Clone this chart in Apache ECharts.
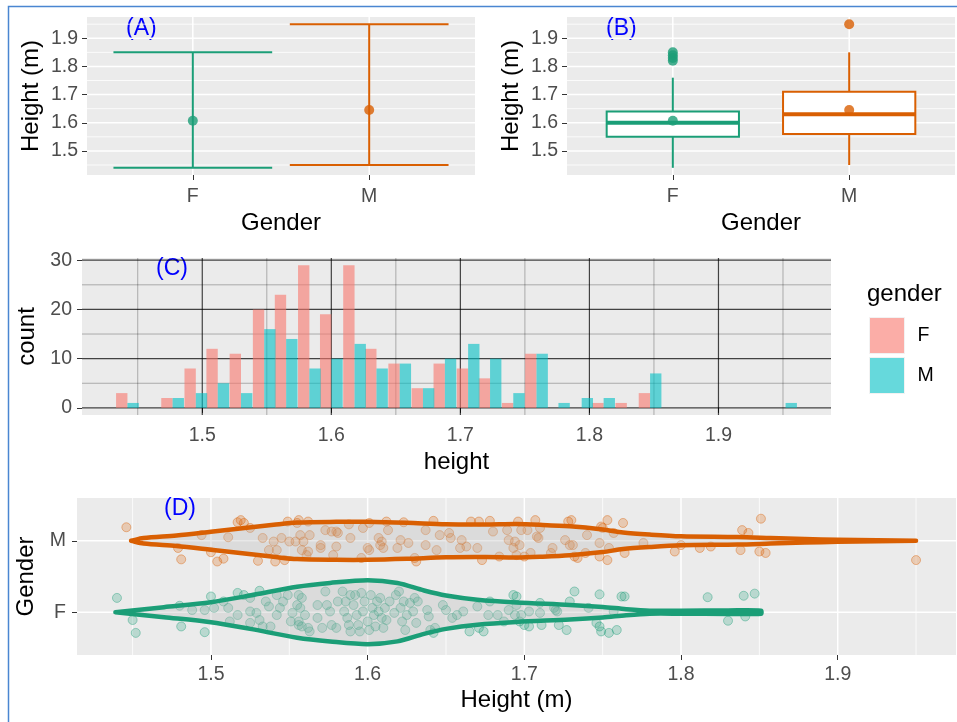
<!DOCTYPE html>
<html>
<head>
<meta charset="utf-8">
<script src="https://cdn.jsdelivr.net/npm/echarts@6.0.0/dist/echarts.min.js"></script>
<style>
html, body { margin: 0; padding: 0; background: #fff; }
#main { width: 957px; height: 722px; }
</style>
</head>
<body>
<div id="main"></div>
<script>
// ---- data ----
var genders = ['F', 'M'];
var genderPos = [1, 2];
var genderCols = ['#1B9E77', '#D95F02'];

// (A) range + mean of height per gender
var rangeMin = [1.44, 1.45];
var rangeMax = [1.85, 1.95];
var meanH = [1.607, 1.645];

// (B) boxplot stats: lower whisker, q1, median, q3, upper whisker
var boxF = [1.44, 1.55, 1.60, 1.64, 1.76];
var boxM = [1.45, 1.56, 1.63, 1.71, 1.85];
var outF = [1.82, 1.83, 1.84, 1.85];
var outM = [1.95];

// (C) histogram, 30 bins
var binWidth = 0.01759;
var binCenters = [1.442, 1.460, 1.477, 1.495, 1.512, 1.530, 1.548, 1.565, 1.583, 1.600,
                  1.618, 1.635, 1.653, 1.671, 1.688, 1.706, 1.723, 1.741, 1.759, 1.776,
                  1.794, 1.811, 1.829, 1.847, 1.864, 1.882, 1.899, 1.917, 1.934, 1.952];
var countF = [3, 0, 2, 8, 12, 11, 20, 23, 29, 19, 29, 12, 9, 4, 9, 8, 6, 1, 11, 0, 0, 1, 1, 3, 0, 0, 0, 0, 0, 0];
var countM = [1, 0, 2, 3, 5, 3, 16, 14, 8, 10, 13, 8, 9, 4, 10, 13, 10, 3, 11, 1, 2, 2, 0, 7, 0, 0, 0, 0, 0, 1];

// (D) violin half widths (in category units) along height
var violinHF = [1.439, 1.47, 1.50, 1.525, 1.555, 1.576, 1.60, 1.619, 1.636, 1.65, 1.67, 1.695, 1.729, 1.75, 1.765, 1.78, 1.80, 1.83, 1.851];
var violinWF = [0, 0.07, 0.14, 0.234, 0.357, 0.41, 0.448, 0.409, 0.304, 0.234, 0.175, 0.136, 0.102, 0.073, 0.042, 0.021, 0.021, 0.024, 0.021];
var violinHM = [1.449, 1.457, 1.478, 1.50, 1.52, 1.54, 1.555, 1.58, 1.60, 1.625, 1.65, 1.675, 1.695, 1.71, 1.729, 1.75, 1.763, 1.78, 1.80, 1.836, 1.857, 1.879, 1.90, 1.95];
var violinWM = [0, 0.038, 0.074, 0.126, 0.175, 0.224, 0.256, 0.266, 0.266, 0.252, 0.231, 0.228, 0.234, 0.224, 0.203, 0.158, 0.116, 0.087, 0.063, 0.053, 0.039, 0.024, 0.014, 0];

// (D) jittered points: [height, vertical jitter]
var ptsF = [
  [1.440,0.20],[1.450,-0.11],[1.452,-0.29],[1.481,-0.20],[1.496,-0.28],[1.480,0.09],[1.488,0.03],[1.496,0.03],[1.500,0.22],[1.502,0.06],
  [1.508,0.15],[1.511,0.06],[1.517,0.27],[1.517,-0.04],[1.521,0.24],[1.525,0.01],[1.525,-0.15],[1.529,-0.01],[1.531,-0.11],[1.533,-0.20],
  [1.535,0.15],[1.537,0.08],[1.538,-0.20],[1.542,0.24],[1.542,-0.04],[1.544,0.06],[1.546,0.15],[1.549,0.24],[1.551,-0.13],[1.552,-0.01],
  [1.555,0.10],[1.556,-0.18],[1.531,0.30],[1.525,0.20],[1.512,-0.13],
  [1.556,0.24],[1.558,0.20],[1.557,0.06],[1.556,-0.13],[1.558,-0.20],[1.562,-0.22],[1.563,-0.27],[1.560,-0.04],[1.568,0.10],[1.568,-0.08],
  [1.571,-0.22],[1.573,0.29],[1.574,0.10],[1.576,0.01],[1.577,-0.18],[1.580,-0.22],[1.581,0.15],[1.584,0.29],[1.585,0.01],[1.586,0.15],
  [1.587,-0.08],[1.588,-0.18],[1.589,0.24],[1.589,-0.27],[1.591,0.10],[1.592,0.24],[1.593,-0.04],[1.594,-0.18],[1.595,-0.27],[1.596,0.27],
  [1.597,0.01],[1.598,0.15],[1.600,-0.13],[1.601,-0.25],[1.602,0.24],[1.603,0.06],[1.604,-0.04],[1.605,-0.20],[1.606,0.15],[1.607,0.01],
  [1.608,0.20],[1.609,-0.08],[1.610,-0.22],[1.611,0.06],[1.612,-0.11],[1.614,0.15],[1.617,-0.01],[1.618,0.24],[1.620,0.29],[1.621,0.06],
  [1.622,-0.13],[1.623,0.15],[1.624,-0.25],[1.625,-0.04],[1.627,0.13],[1.629,0.01],[1.630,0.20],[1.631,-0.15],[1.632,0.15],[1.638,0.03],
  [1.639,-0.06],[1.640,-0.25],[1.642,-0.29],[1.643,-0.22],[1.648,0.10],[1.650,0.03],[1.654,-0.08],[1.657,-0.04],[1.661,0.01],[1.665,-0.27],
  [1.670,0.08],[1.671,-0.22],[1.674,-0.27],[1.677,-0.04],[1.678,0.15],[1.683,-0.04],[1.687,-0.13],[1.690,0.03],[1.693,0.24],[1.694,-0.04],
  [1.695,0.10],
  [1.695,0.22],[1.697,-0.13],[1.698,-0.04],[1.700,-0.18],[1.703,0.01],[1.703,-0.20],[1.710,0.13],[1.710,-0.01],[1.711,-0.18],[1.719,0.06],
  [1.720,0.03],[1.721,0.01],[1.722,-0.18],[1.727,-0.25],[1.729,0.15],[1.732,0.29],[1.741,0.06],[1.746,-0.15],[1.748,0.25],[1.748,-0.20],
  [1.749,-0.27],[1.754,-0.29],[1.757,0.01],[1.759,-0.25],[1.762,0.22],[1.764,0.22],[1.817,0.21],[1.830,-0.12],
  [1.840,0.23],[1.847,0.26],[1.841,-0.06]
];
var ptsM = [
  [1.446,0.19],[1.494,0.08],[1.511,0.05],[1.519,0.29],[1.517,0.26],[1.521,0.25],[1.525,0.18],[1.533,0.04],[1.540,-0.01],[1.542,-0.13],
  [1.537,-0.13],[1.545,0.04],[1.550,-0.01],[1.554,-0.01],[1.549,0.27],[1.555,0.25],[1.479,-0.10],[1.481,-0.26],[1.500,-0.16],[1.504,-0.29],
  [1.508,-0.25],[1.530,-0.28],[1.541,-0.29],[1.547,-0.27],
  [1.556,0.29],[1.562,0.27],[1.557,0.08],[1.559,-0.01],[1.558,-0.13],[1.562,-0.15],[1.563,0.08],[1.561,-0.20],[1.570,-0.06],[1.570,-0.10],
  [1.573,0.15],[1.577,0.13],[1.580,0.13],[1.581,0.11],[1.578,-0.20],[1.580,-0.08],[1.588,0.23],[1.589,0.04],[1.596,-0.24],[1.597,0.18],
  [1.601,0.25],[1.600,-0.10],[1.601,-0.13],[1.607,0.04],[1.609,-0.01],[1.608,-0.06],[1.610,-0.10],[1.612,0.27],[1.613,0.15],[1.619,-0.10],
  [1.621,0.01],[1.623,0.26],[1.626,-0.03],[1.630,-0.24],[1.631,-0.29],[1.637,0.15],[1.637,-0.06],[1.642,0.28],[1.644,-0.13],[1.646,0.08],
  [1.653,0.04],[1.652,0.11],[1.659,-0.10],[1.660,0.01],[1.663,-0.08],[1.666,0.27],[1.670,-0.10],[1.671,0.27],[1.673,-0.27],[1.678,0.28],
  [1.680,0.13],[1.684,-0.22],[1.689,0.15],[1.690,0.01],[1.693,-0.10],[1.694,-0.01],[1.695,-0.20],
  [1.696,0.27],[1.697,-0.06],[1.698,0.15],[1.702,0.15],[1.700,-0.22],[1.704,-0.17],[1.707,0.29],[1.708,0.06],[1.709,0.04],[1.710,0.18],
  [1.717,-0.17],[1.718,-0.10],[1.726,0.01],[1.728,0.27],[1.729,-0.06],[1.730,0.29],[1.731,-0.06],[1.732,-0.22],[1.734,-0.24],[1.739,-0.17],
  [1.740,0.08],[1.748,-0.03],[1.748,-0.22],[1.749,0.20],[1.750,0.18],[1.753,0.29],[1.753,-0.27],[1.754,-0.10],[1.757,0.11],[1.763,0.25],
  [1.764,-0.17],[1.776,-0.03],[1.796,-0.15],[1.800,-0.06],[1.812,-0.10],[1.819,-0.08],
  [1.839,0.15],[1.843,0.11],[1.838,-0.13],[1.850,-0.15],[1.854,-0.17],[1.851,0.31],[1.950,-0.27]
];

// tick values
var hTicks = [1.5, 1.6, 1.7, 1.8, 1.9];
var hMinor = [1.45, 1.55, 1.65, 1.75, 1.85, 1.95];
var cTicks = [0, 10, 20, 30];
var cMinor = [5, 15, 25];

// ---- helpers ----
var tickCol = '#333333', labCol = '#4D4D4D';
var tickFont = 19.5, titleFont = 24;

function gridLines(xi, yi, dir, vals, color, width) {
    return {
        type: 'custom', xAxisIndex: xi, yAxisIndex: yi, silent: true, z: 1,
        data: vals.map(function (v) { return dir === 'v' ? [v, 1] : [1, v]; }),
        renderItem: function (params, api) {
            var cs = params.coordSys;
            var p = api.coord([api.value(0), api.value(1)]);
            if (dir === 'v') {
                return { type: 'line', shape: { x1: p[0], y1: cs.y, x2: p[0], y2: cs.y + cs.height },
                         style: { stroke: color, lineWidth: width } };
            }
            return { type: 'line', shape: { x1: cs.x, y1: p[1], x2: cs.x + cs.width, y2: p[1] },
                     style: { stroke: color, lineWidth: width } };
        }
    };
}

function valAxis(gi, min, max, ticks, fmt, name, gap, isY, margin) {
    var ax = {
        type: 'value', gridIndex: gi, min: min, max: max,
        axisLine: { show: false },
        axisTick: { show: true, customValues: ticks, length: 5, lineStyle: { color: tickCol } },
        axisLabel: { customValues: ticks, formatter: fmt, color: labCol, fontSize: tickFont, margin: margin },
        splitLine: { show: false },
        name: name, nameLocation: 'middle', nameGap: gap,
        nameTextStyle: { color: '#000', fontSize: titleFont }
    };
    if (isY) ax.nameRotate = 90;
    return ax;
}

function fmt1(v) { return v.toFixed(1); }
function fmt0(v) { return String(Math.round(v)); }
function fmtG(v) { return genders[Math.round(v) - 1]; }

function errorbarRender(params, api) {
    var lo = api.coord([api.value(0), api.value(1)]);
    var hi = api.coord([api.value(0), api.value(2)]);
    var hw = api.size([0.9, 0])[0] / 2;
    var st = { stroke: genderCols[params.dataIndex], lineWidth: 2 };
    return { type: 'group', children: [
        { type: 'line', shape: { x1: lo[0], y1: lo[1], x2: hi[0], y2: hi[1] }, style: st },
        { type: 'line', shape: { x1: lo[0] - hw, y1: lo[1], x2: lo[0] + hw, y2: lo[1] }, style: st },
        { type: 'line', shape: { x1: hi[0] - hw, y1: hi[1], x2: hi[0] + hw, y2: hi[1] }, style: st }
    ] };
}

function boxRender(params, api) {
    var x = api.value(0);
    var pLow = api.coord([x, api.value(1)]);
    var pQ1 = api.coord([x, api.value(2)]);
    var pMed = api.coord([x, api.value(3)]);
    var pQ3 = api.coord([x, api.value(4)]);
    var pHigh = api.coord([x, api.value(5)]);
    var hw = api.size([0.75, 0])[0] / 2;
    var c = genderCols[params.dataIndex];
    return { type: 'group', children: [
        { type: 'line', shape: { x1: pLow[0], y1: pLow[1], x2: pQ1[0], y2: pQ1[1] }, style: { stroke: c, lineWidth: 2 } },
        { type: 'line', shape: { x1: pQ3[0], y1: pQ3[1], x2: pHigh[0], y2: pHigh[1] }, style: { stroke: c, lineWidth: 2 } },
        { type: 'rect', shape: { x: pQ3[0] - hw, y: pQ3[1], width: hw * 2, height: pQ1[1] - pQ3[1] },
          style: { fill: '#fff', stroke: c, lineWidth: 2 } },
        { type: 'line', shape: { x1: pMed[0] - hw, y1: pMed[1], x2: pMed[0] + hw, y2: pMed[1] }, style: { stroke: c, lineWidth: 4 } }
    ] };
}

function histSeries(name, counts, side, color) {
    var data = [];
    for (var i = 0; i < binCenters.length; i++) {
        if (counts[i] > 0) data.push([binCenters[i], counts[i]]);
    }
    return {
        type: 'custom', name: name, xAxisIndex: 2, yAxisIndex: 2, z: 3,
        itemStyle: { color: color },
        data: data,
        renderItem: function (params, api) {
            var c = api.value(0);
            var x0 = side === 0 ? c - binWidth / 2 : c;
            var x1 = side === 0 ? c : c + binWidth / 2;
            var pTop = api.coord([x0, api.value(1)]);
            var pBot = api.coord([x1, 0]);
            return { type: 'rect', shape: { x: pTop[0], y: pTop[1], width: pBot[0] - pTop[0], height: pBot[1] - pTop[1] },
                     style: { fill: color } };
        }
    };
}

function violinSeries(hs, ws, center, color) {
    return {
        type: 'custom', xAxisIndex: 3, yAxisIndex: 3, z: 5, silent: true,
        data: [[hs[0], center]],
        renderItem: function (params, api) {
            var top = [], bot = [];
            for (var i = 0; i < hs.length; i++) {
                top.push(api.coord([hs[i], center + ws[i]]));
                bot.unshift(api.coord([hs[i], center - ws[i]]));
            }
            return { type: 'polygon', shape: { points: top.concat(bot), smooth: 0.3 },
                     style: { fill: 'rgba(190,190,190,0.35)', stroke: color, lineWidth: 4.5, lineJoin: 'round' } };
        }
    };
}

function jitterSeries(pts, center, rgb) {
    return {
        type: 'scatter', xAxisIndex: 3, yAxisIndex: 3, z: 4, symbolSize: 9,
        itemStyle: { color: 'rgba(' + rgb + ',0.3)', borderColor: 'rgba(' + rgb + ',0.5)', borderWidth: 1 },
        data: pts.map(function (p) { return [p[0], center + p[1]]; })
    };
}

function pointItems(gIdx, vals) {
    return vals.map(function (v) {
        return { value: [genderPos[gIdx], v], itemStyle: { color: genderCols[gIdx] } };
    });
}

// ---- chart ----
var myChart = echarts.init(document.getElementById('main'), null, { renderer: 'canvas' });
var gridBg = { show: true, backgroundColor: '#EBEBEB', borderWidth: 0 };
var darkMajor = 'rgba(0,0,0,0.72)', darkMinor = 'rgba(0,0,0,0.28)';
var lblFont = 'Liberation Sans, Arial, sans-serif';

var option = {
    animation: false,
    textStyle: { fontFamily: lblFont },
    grid: [
        Object.assign({ left: 87, top: 17, width: 388, height: 158 }, gridBg),
        Object.assign({ left: 567, top: 17, width: 388, height: 158 }, gridBg),
        Object.assign({ left: 82, top: 258, width: 749, height: 157 }, gridBg),
        Object.assign({ left: 77, top: 498, width: 879, height: 157 }, gridBg)
    ],
    xAxis: [
        valAxis(0, 0.4, 2.6, genderPos, fmtG, 'Gender', 36, false, 12),
        valAxis(1, 0.4, 2.6, genderPos, fmtG, 'Gender', 36, false, 12),
        valAxis(2, 1.4068, 1.9872, hTicks, fmt1, 'height', 35, false, 11),
        valAxis(3, 1.4145, 1.9755, hTicks, fmt1, 'Height (m)', 33, false, 10)
    ],
    yAxis: [
        valAxis(0, 1.4145, 1.9755, hTicks, fmt1, 'Height (m)', 44, true, 9),
        valAxis(1, 1.4145, 1.9755, hTicks, fmt1, 'Height (m)', 44, true, 9),
        valAxis(2, -1.45, 30.45, cTicks, fmt0, 'count', 41, true, 10),
        valAxis(3, 0.4, 2.6, genderPos, fmtG, 'Gender', 35, true, 11)
    ],
    legend: {
        left: 869, top: 317, orient: 'vertical', itemWidth: 35, itemHeight: 36, itemGap: 3,
        selectedMode: false, padding: 0, icon: 'rect',
        textStyle: { color: '#000', fontSize: tickFont, padding: [0, 0, 0, 8] },
        data: [
            { name: 'F', itemStyle: { color: 'rgba(248,118,109,0.6)', borderColor: '#F2F2F2', borderWidth: 1 } },
            { name: 'M', itemStyle: { color: 'rgba(0,191,196,0.6)', borderColor: '#F2F2F2', borderWidth: 1 } }
        ]
    },
    graphic: [
        { type: 'polyline', silent: true, shape: { points: [[8.5, 722], [8.5, 6.5], [957, 6.5]] },
          style: { stroke: '#4A86D1', lineWidth: 1.5, fill: null } },
        { type: 'text', x: 126, y: 29, style: { text: '(A)', fill: '#0000FF', fontSize: 23, verticalAlign: 'middle', fontFamily: lblFont } },
        { type: 'text', x: 606, y: 29, style: { text: '(B)', fill: '#0000FF', fontSize: 23, verticalAlign: 'middle', fontFamily: lblFont } },
        { type: 'text', x: 156, y: 269, style: { text: '(C)', fill: '#0000FF', fontSize: 23, verticalAlign: 'middle', fontFamily: lblFont } },
        { type: 'text', x: 164, y: 509, style: { text: '(D)', fill: '#0000FF', fontSize: 23, verticalAlign: 'middle', fontFamily: lblFont } },
        { type: 'text', x: 867, y: 294, style: { text: 'gender', fill: '#000', fontSize: titleFont, verticalAlign: 'middle', fontFamily: lblFont } }
    ],
    series: [
        // grid lines
        gridLines(0, 0, 'h', hMinor, '#fff', 0.8),
        gridLines(0, 0, 'h', hTicks, '#fff', 1.5),
        gridLines(0, 0, 'v', genderPos, '#fff', 1.5),
        gridLines(1, 1, 'h', hMinor, '#fff', 0.8),
        gridLines(1, 1, 'h', hTicks, '#fff', 1.5),
        gridLines(1, 1, 'v', genderPos, '#fff', 1.5),
        gridLines(2, 2, 'h', cMinor, darkMinor, 1),
        gridLines(2, 2, 'v', hMinor, darkMinor, 1),
        gridLines(2, 2, 'h', cTicks, darkMajor, 1.2),
        gridLines(2, 2, 'v', hTicks, darkMajor, 1.2),
        gridLines(3, 3, 'v', hMinor, '#fff', 0.8),
        gridLines(3, 3, 'v', hTicks, '#fff', 1.5),
        gridLines(3, 3, 'h', genderPos, '#fff', 1.5),
        // (A)
        { type: 'custom', xAxisIndex: 0, yAxisIndex: 0, z: 3,
          data: genderPos.map(function (g, i) { return [g, rangeMin[i], rangeMax[i]]; }),
          renderItem: errorbarRender },
        { type: 'scatter', xAxisIndex: 0, yAxisIndex: 0, z: 4, symbolSize: 10,
          data: pointItems(0, [meanH[0]]).concat(pointItems(1, [meanH[1]])) },
        // (B)
        { type: 'custom', xAxisIndex: 1, yAxisIndex: 1, z: 3,
          data: [[genderPos[0]].concat(boxF), [genderPos[1]].concat(boxM)],
          renderItem: boxRender },
        { type: 'scatter', xAxisIndex: 1, yAxisIndex: 1, z: 4, symbolSize: 10,
          data: pointItems(0, outF).concat(pointItems(1, outM)) },
        { type: 'scatter', xAxisIndex: 1, yAxisIndex: 1, z: 4, symbolSize: 10,
          data: pointItems(0, [meanH[0]]).concat(pointItems(1, [meanH[1]])) },
        // (C)
        histSeries('F', countF, 0, 'rgba(248,118,109,0.6)'),
        histSeries('M', countM, 1, 'rgba(0,191,196,0.6)'),
        // (D)
        jitterSeries(ptsM, 2, '217,95,2'),
        jitterSeries(ptsF, 1, '27,158,119'),
        violinSeries(violinHM, violinWM, 2, genderCols[1]),
        violinSeries(violinHF, violinWF, 1, genderCols[0])
    ]
};
myChart.setOption(option);
</script>
</body>
</html>
